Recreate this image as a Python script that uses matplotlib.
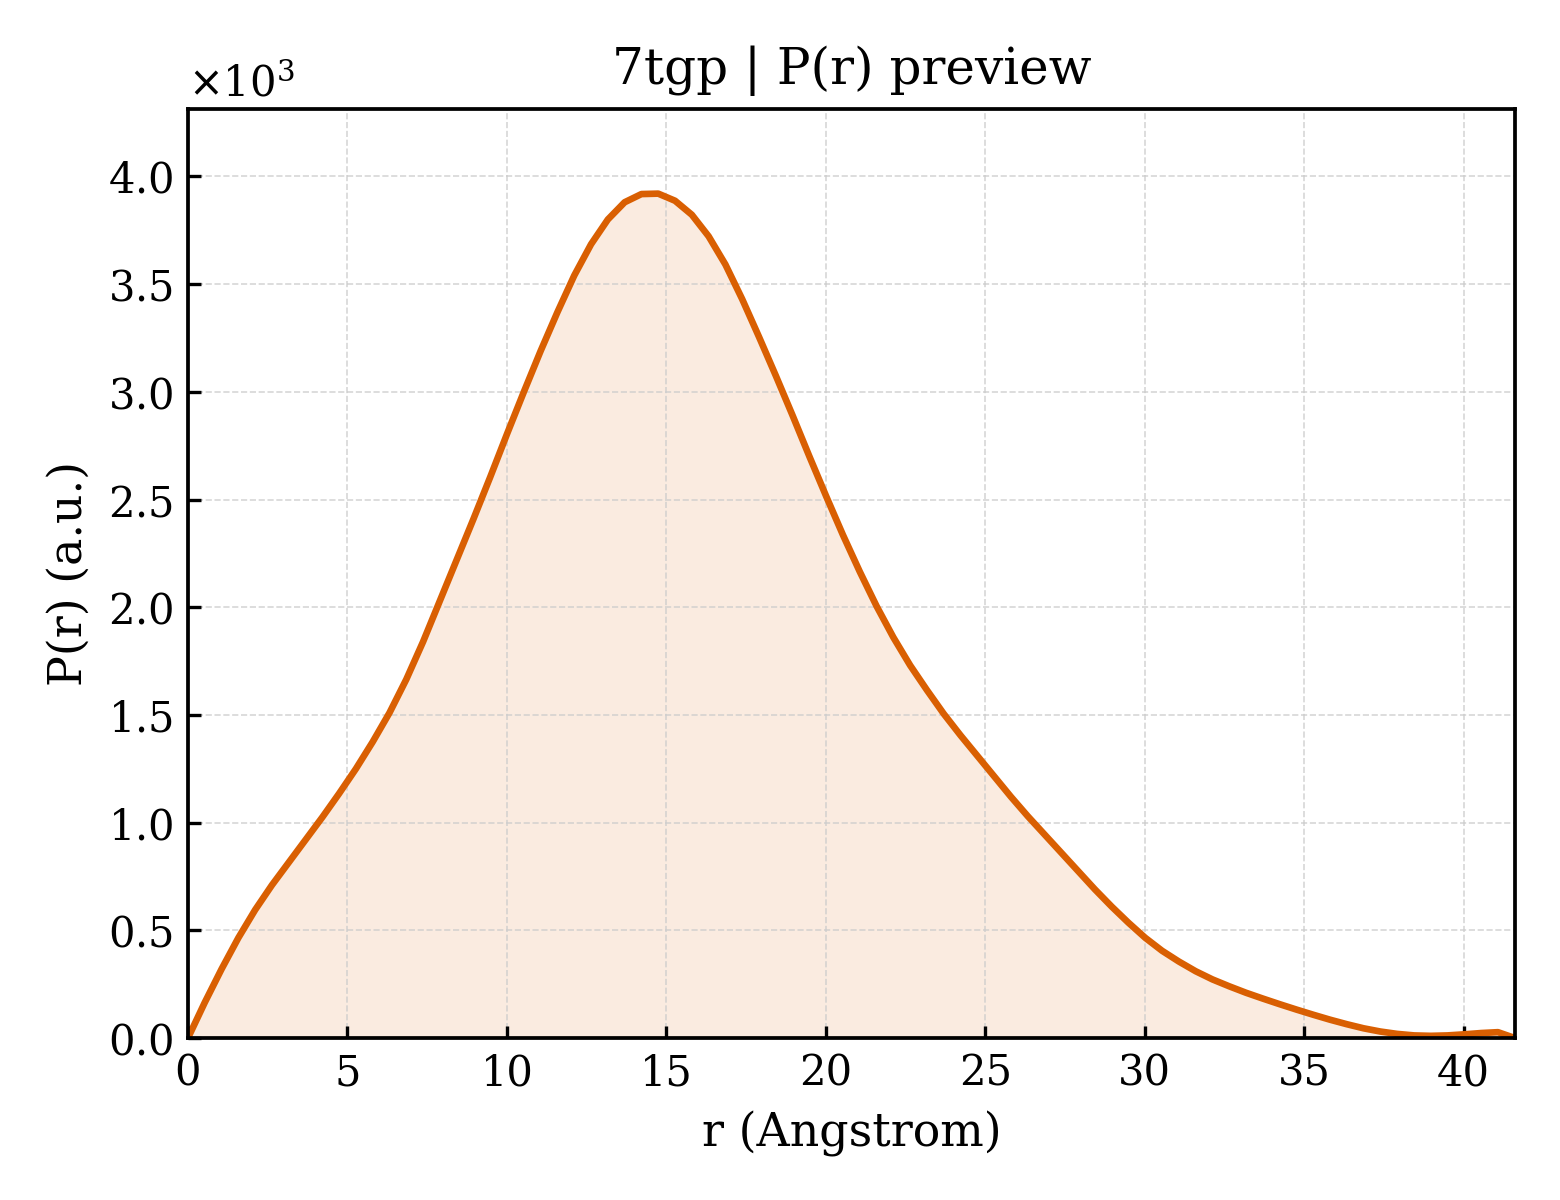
import numpy as np
import matplotlib
matplotlib.use("Agg")
import matplotlib.pyplot as plt

# P(r) preview for 7tgp (units of 1e3)
d_max = 41.6
r = np.linspace(0, d_max, 80)
p_r = [
    0.0, 0.165, 0.32, 0.465, 0.595, 0.71, 0.815, 0.92, 1.025, 1.135,
    1.25, 1.375, 1.51, 1.665, 1.84, 2.03, 2.22, 2.41, 2.605, 2.805,
    3.0, 3.19, 3.37, 3.54, 3.685, 3.80, 3.88, 3.918, 3.92, 3.887,
    3.822, 3.722, 3.591, 3.43, 3.255, 3.075, 2.89, 2.70, 2.515, 2.335,
    2.165, 2.005, 1.86, 1.73, 1.615, 1.505, 1.405, 1.31, 1.215, 1.12,
    1.03, 0.945, 0.86, 0.775, 0.69, 0.61, 0.535, 0.465, 0.405, 0.355,
    0.31, 0.272, 0.24, 0.21, 0.183, 0.157, 0.132, 0.108, 0.085, 0.064,
    0.045, 0.03, 0.019, 0.012, 0.01, 0.012, 0.017, 0.023, 0.027, 0.0,
]
p_r = np.array(p_r) * 1e3

line_color = "#d95f02"

plt.rcParams["font.family"] = "serif"
plt.rcParams["font.serif"] = ["DejaVu Serif"]

fig, ax = plt.subplots(figsize=(5.2, 4), dpi=300)
fig.subplots_adjust(left=0.1205, right=0.971, bottom=0.135, top=0.909)

ax.fill_between(r, p_r, 0, color=line_color, alpha=0.12, linewidth=0)
ax.plot(r, p_r, color=line_color, linewidth=1.6)

ax.set_xlim(0, d_max)
ax.set_ylim(0, p_r.max() * 1.1)
ax.ticklabel_format(axis="y", style="sci", scilimits=(0, 0), useMathText=True)

ax.set_title("7tgp | P(r) preview", fontsize=12)
ax.set_xlabel("r (Angstrom)", fontsize=11)
ax.set_ylabel("P(r) (a.u.)", fontsize=11)

ax.tick_params(direction="in", labelsize=10, length=3, width=0.8)
ax.grid(True, linestyle="--", linewidth=0.4, color="#cccccc", alpha=0.8)
for s in ax.spines.values():
    s.set_linewidth(0.9)

plt.savefig("out.png", dpi=300)
